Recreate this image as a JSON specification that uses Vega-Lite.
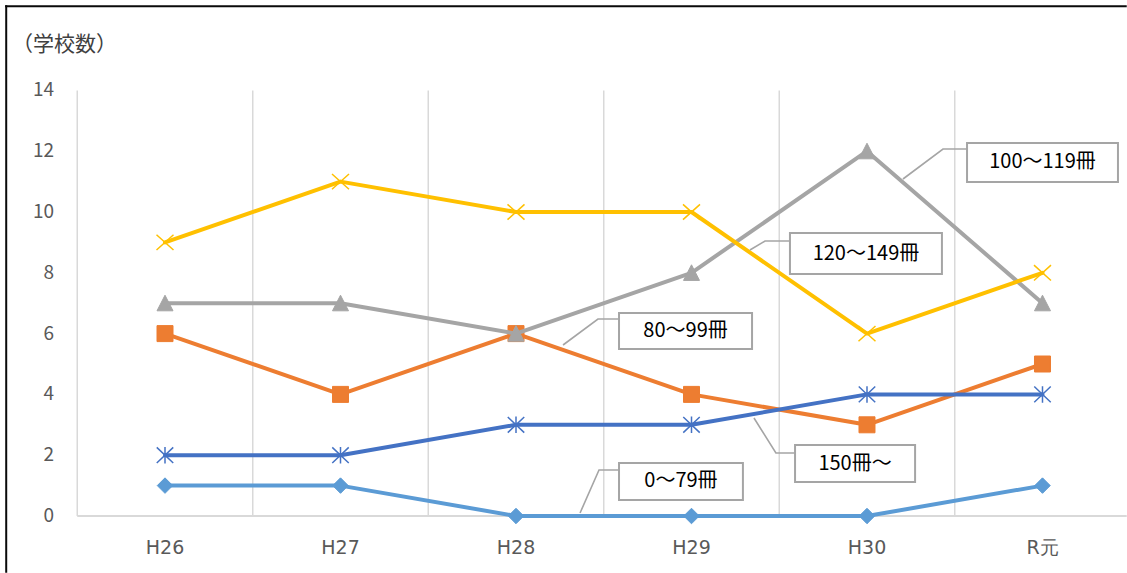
{
  "$schema": "https://vega.github.io/schema/vega-lite/v6.json",
  "width": 1127,
  "height": 573,
  "autosize": "none",
  "padding": 0,
  "background": "white",
  "config": {"view": {"stroke": null}, "font": "Noto Sans CJK JP", "axis": {"disable": true}},
  "datasets": {
    "counts": [
      {"year": "H26", "i": 0, "series": "0〜79冊", "count": 1},
      {"year": "H27", "i": 1, "series": "0〜79冊", "count": 1},
      {"year": "H28", "i": 2, "series": "0〜79冊", "count": 0},
      {"year": "H29", "i": 3, "series": "0〜79冊", "count": 0},
      {"year": "H30", "i": 4, "series": "0〜79冊", "count": 0},
      {"year": "R元", "i": 5, "series": "0〜79冊", "count": 1},
      {"year": "H26", "i": 0, "series": "80〜99冊", "count": 6},
      {"year": "H27", "i": 1, "series": "80〜99冊", "count": 4},
      {"year": "H28", "i": 2, "series": "80〜99冊", "count": 6},
      {"year": "H29", "i": 3, "series": "80〜99冊", "count": 4},
      {"year": "H30", "i": 4, "series": "80〜99冊", "count": 3},
      {"year": "R元", "i": 5, "series": "80〜99冊", "count": 5},
      {"year": "H26", "i": 0, "series": "100〜119冊", "count": 7},
      {"year": "H27", "i": 1, "series": "100〜119冊", "count": 7},
      {"year": "H28", "i": 2, "series": "100〜119冊", "count": 6},
      {"year": "H29", "i": 3, "series": "100〜119冊", "count": 8},
      {"year": "H30", "i": 4, "series": "100〜119冊", "count": 12},
      {"year": "R元", "i": 5, "series": "100〜119冊", "count": 7},
      {"year": "H26", "i": 0, "series": "120〜149冊", "count": 9},
      {"year": "H27", "i": 1, "series": "120〜149冊", "count": 11},
      {"year": "H28", "i": 2, "series": "120〜149冊", "count": 10},
      {"year": "H29", "i": 3, "series": "120〜149冊", "count": 10},
      {"year": "H30", "i": 4, "series": "120〜149冊", "count": 6},
      {"year": "R元", "i": 5, "series": "120〜149冊", "count": 8},
      {"year": "H26", "i": 0, "series": "150冊〜", "count": 2},
      {"year": "H27", "i": 1, "series": "150冊〜", "count": 2},
      {"year": "H28", "i": 2, "series": "150冊〜", "count": 3},
      {"year": "H29", "i": 3, "series": "150冊〜", "count": 3},
      {"year": "H30", "i": 4, "series": "150冊〜", "count": 4},
      {"year": "R元", "i": 5, "series": "150冊〜", "count": 4}
    ],
    "bounds": [{"b": -0.5}, {"b": 0.5}, {"b": 1.5}, {"b": 2.5}, {"b": 3.5}, {"b": 4.5}],
    "yticks": [{"t": 0}, {"t": 2}, {"t": 4}, {"t": 6}, {"t": 8}, {"t": 10}, {"t": 12}, {"t": 14}],
    "callouts": [
      {"label": "0〜79冊", "cx": 2.94, "cy": 1.135, "x1": 2.587, "x2": 3.293, "y1": 0.526, "y2": 1.743},
      {"label": "80〜99冊", "cx": 2.966, "cy": 6.086, "x1": 2.587, "x2": 3.345, "y1": 5.493, "y2": 6.678},
      {"label": "100〜119冊", "cx": 5.0, "cy": 11.63, "x1": 4.57, "x2": 5.43, "y1": 10.987, "y2": 12.27},
      {"label": "120〜149冊", "cx": 3.994, "cy": 8.635, "x1": 3.561, "x2": 4.427, "y1": 7.961, "y2": 9.309},
      {"label": "150冊〜", "cx": 3.932, "cy": 1.727, "x1": 3.59, "x2": 4.274, "y1": 1.118, "y2": 2.336}
    ],
    "leaders": [
      {"label": "0〜79冊", "k": 0, "i": 2.365, "v": 0.099},
      {"label": "0〜79冊", "k": 1, "i": 2.473, "v": 1.513},
      {"label": "0〜79冊", "k": 2, "i": 2.587, "v": 1.513},
      {"label": "80〜99冊", "k": 0, "i": 2.268, "v": 5.625},
      {"label": "80〜99冊", "k": 1, "i": 2.467, "v": 6.48},
      {"label": "80〜99冊", "k": 2, "i": 2.587, "v": 6.48},
      {"label": "100〜119冊", "k": 0, "i": 4.205, "v": 11.086},
      {"label": "100〜119冊", "k": 1, "i": 4.433, "v": 12.072},
      {"label": "100〜119冊", "k": 2, "i": 4.57, "v": 12.072},
      {"label": "120〜149冊", "k": 0, "i": 3.333, "v": 8.75},
      {"label": "120〜149冊", "k": 1, "i": 3.419, "v": 9.046},
      {"label": "120〜149冊", "k": 2, "i": 3.561, "v": 9.046},
      {"label": "150冊〜", "k": 0, "i": 3.356, "v": 3.224},
      {"label": "150冊〜", "k": 1, "i": 3.481, "v": 2.072},
      {"label": "150冊〜", "k": 2, "i": 3.59, "v": 2.072}
    ]
  },
  "layer": [
    {
      "description": "chart-area frame, top edge (the right and bottom edges lie outside the canvas)",
      "data": {"values": [{}]},
      "mark": {"type": "rule", "color": "#0a0a0a", "strokeWidth": 2},
      "encoding": {
        "x": {"datum": -0.911, "type": "quantitative", "scale": {"domain": [-0.9402, 5.4815], "nice": false, "zero": false}, "axis": null},
        "x2": {"datum": 5.48},
        "y": {"datum": 16.766, "type": "quantitative", "scale": {"domain": [-1.875, 16.974], "nice": false, "zero": false}, "axis": null}
      }
    },
    {
      "description": "chart-area frame, left edge",
      "data": {"values": [{}]},
      "mark": {"type": "rule", "color": "#0a0a0a", "strokeWidth": 2},
      "encoding": {
        "x": {"datum": -0.9048, "type": "quantitative", "axis": null},
        "y": {"datum": -1.87, "type": "quantitative", "axis": null},
        "y2": {"datum": 16.8}
      }
    },
    {
      "description": "vertical gridlines between the year categories",
      "data": {"name": "bounds"},
      "mark": {"type": "rule", "color": "#d9d9d9", "strokeWidth": 1.5},
      "encoding": {
        "x": {"field": "b", "type": "quantitative", "axis": null},
        "y": {"datum": 0, "type": "quantitative", "axis": null},
        "y2": {"datum": 14}
      }
    },
    {
      "description": "category axis baseline",
      "data": {"values": [{}]},
      "mark": {"type": "rule", "color": "#d9d9d9", "strokeWidth": 1.8},
      "encoding": {
        "x": {"datum": -0.5, "type": "quantitative", "axis": null},
        "x2": {"datum": 5.48},
        "y": {"datum": 0, "type": "quantitative", "axis": null}
      }
    },
    {
      "description": "category labels under the baseline",
      "data": {"name": "counts"},
      "transform": [{"filter": {"field": "series", "equal": "0〜79冊"}}],
      "mark": {"type": "text", "font": "DejaVu Sans", "fontSize": 19, "color": "#595959", "align": "center", "baseline": "middle"},
      "encoding": {
        "x": {"field": "i", "type": "quantitative", "axis": null},
        "y": {"datum": -1.05, "type": "quantitative", "axis": null},
        "text": {"field": "year"}
      }
    },
    {
      "description": "value-axis tick labels",
      "data": {"name": "yticks"},
      "mark": {"type": "text", "font": "Noto Sans CJK JP", "fontSize": 19, "color": "#595959", "align": "right", "baseline": "middle"},
      "encoding": {
        "x": {"datum": -0.6325, "type": "quantitative", "axis": null},
        "y": {"field": "t", "type": "quantitative", "axis": null},
        "text": {"field": "t"}
      }
    },
    {
      "description": "value-axis title",
      "data": {"values": [{}]},
      "mark": {"type": "text", "font": "Noto Sans CJK JP", "fontSize": 21, "color": "#404040", "align": "left", "baseline": "middle"},
      "encoding": {
        "x": {"datum": -0.8718, "type": "quantitative", "axis": null},
        "y": {"datum": 15.5, "type": "quantitative", "axis": null},
        "text": {"value": "（学校数）"}
      }
    },
    {
      "data": {"name": "counts"},
      "transform": [{"filter": {"field": "series", "equal": "0〜79冊"}}],
      "mark": {"type": "line", "color": "#5B9BD5", "strokeWidth": 4, "strokeJoin": "round", "strokeCap": "round"},
      "encoding": {
        "x": {"field": "i", "type": "quantitative", "axis": null},
        "y": {"field": "count", "type": "quantitative", "axis": null}
      }
    },
    {
      "data": {"name": "counts"},
      "transform": [{"filter": {"field": "series", "equal": "0〜79冊"}}],
      "mark": {"type": "point", "shape": "diamond", "filled": true, "fill": "#5B9BD5", "stroke": "#5B9BD5", "strokeWidth": 1, "size": 240, "opacity": 1},
      "encoding": {
        "x": {"field": "i", "type": "quantitative", "axis": null},
        "y": {"field": "count", "type": "quantitative", "axis": null}
      }
    },
    {
      "data": {"name": "counts"},
      "transform": [{"filter": {"field": "series", "equal": "80〜99冊"}}],
      "mark": {"type": "line", "color": "#ED7D31", "strokeWidth": 4, "strokeJoin": "round", "strokeCap": "round"},
      "encoding": {
        "x": {"field": "i", "type": "quantitative", "axis": null},
        "y": {"field": "count", "type": "quantitative", "axis": null}
      }
    },
    {
      "data": {"name": "counts"},
      "transform": [{"filter": {"field": "series", "equal": "80〜99冊"}}],
      "mark": {"type": "point", "shape": "square", "filled": true, "fill": "#ED7D31", "stroke": "#ED7D31", "strokeWidth": 1, "size": 256, "opacity": 1},
      "encoding": {
        "x": {"field": "i", "type": "quantitative", "axis": null},
        "y": {"field": "count", "type": "quantitative", "axis": null}
      }
    },
    {
      "data": {"name": "counts"},
      "transform": [{"filter": {"field": "series", "equal": "100〜119冊"}}],
      "mark": {"type": "line", "color": "#A5A5A5", "strokeWidth": 4, "strokeJoin": "round", "strokeCap": "round"},
      "encoding": {
        "x": {"field": "i", "type": "quantitative", "axis": null},
        "y": {"field": "count", "type": "quantitative", "axis": null}
      }
    },
    {
      "data": {"name": "counts"},
      "transform": [{"filter": {"field": "series", "equal": "100〜119冊"}}],
      "mark": {"type": "point", "shape": "M0,-1L1,0.95L-1,0.95Z", "filled": true, "fill": "#A5A5A5", "stroke": "#A5A5A5", "strokeWidth": 1, "size": 256, "opacity": 1},
      "encoding": {
        "x": {"field": "i", "type": "quantitative", "axis": null},
        "y": {"field": "count", "type": "quantitative", "axis": null}
      }
    },
    {
      "data": {"name": "counts"},
      "transform": [{"filter": {"field": "series", "equal": "120〜149冊"}}],
      "mark": {"type": "line", "color": "#FFC000", "strokeWidth": 4, "strokeJoin": "round", "strokeCap": "round"},
      "encoding": {
        "x": {"field": "i", "type": "quantitative", "axis": null},
        "y": {"field": "count", "type": "quantitative", "axis": null}
      }
    },
    {
      "data": {"name": "counts"},
      "transform": [{"filter": {"field": "series", "equal": "120〜149冊"}}],
      "mark": {"type": "point", "shape": "M-1,-0.9L1,0.9M-1,0.9L1,-0.9", "filled": false, "stroke": "#FFC000", "strokeWidth": 1.5, "size": 289, "opacity": 1},
      "encoding": {
        "x": {"field": "i", "type": "quantitative", "axis": null},
        "y": {"field": "count", "type": "quantitative", "axis": null}
      }
    },
    {
      "data": {"name": "counts"},
      "transform": [{"filter": {"field": "series", "equal": "150冊〜"}}],
      "mark": {"type": "line", "color": "#4472C4", "strokeWidth": 4, "strokeJoin": "round", "strokeCap": "round"},
      "encoding": {
        "x": {"field": "i", "type": "quantitative", "axis": null},
        "y": {"field": "count", "type": "quantitative", "axis": null}
      }
    },
    {
      "data": {"name": "counts"},
      "transform": [{"filter": {"field": "series", "equal": "150冊〜"}}],
      "mark": {"type": "point", "shape": "M-1,-0.95L1,0.95M-1,0.95L1,-0.95M0,-1L0,1", "filled": false, "stroke": "#4472C4", "strokeWidth": 1.5, "size": 272, "opacity": 1},
      "encoding": {
        "x": {"field": "i", "type": "quantitative", "axis": null},
        "y": {"field": "count", "type": "quantitative", "axis": null}
      }
    },
    {
      "description": "leader lines from each series to its name box",
      "data": {"name": "leaders"},
      "mark": {"type": "line", "color": "#A5A5A5", "strokeWidth": 1.6},
      "encoding": {
        "x": {"field": "i", "type": "quantitative", "axis": null},
        "y": {"field": "v", "type": "quantitative", "axis": null},
        "detail": {"field": "label"},
        "order": {"field": "k"}
      }
    },
    {
      "data": {"name": "callouts"},
      "mark": {"type": "rect", "fill": "#FFFFFF", "stroke": "#A5A5A5", "strokeWidth": 2},
      "encoding": {
        "x": {"field": "x1", "type": "quantitative", "axis": null},
        "x2": {"field": "x2"},
        "y": {"field": "y1", "type": "quantitative", "axis": null},
        "y2": {"field": "y2"}
      }
    },
    {
      "data": {"name": "callouts"},
      "mark": {"type": "text", "font": "Noto Sans CJK JP", "fontSize": 20, "color": "#000000", "align": "center", "baseline": "middle"},
      "encoding": {
        "x": {"field": "cx", "type": "quantitative", "axis": null},
        "y": {"field": "cy", "type": "quantitative", "axis": null},
        "text": {"field": "label"}
      }
    }
  ]
}
